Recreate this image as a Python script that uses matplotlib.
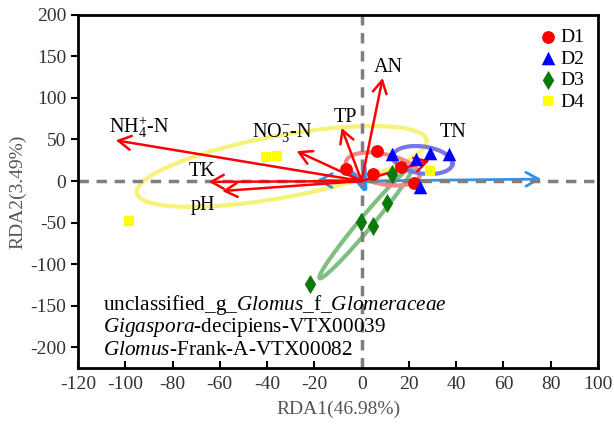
import numpy as np
import matplotlib
matplotlib.use("Agg")
import matplotlib.pyplot as plt

plt.rcParams['font.family'] = ['Liberation Serif', 'DejaVu Serif']
plt.rcParams['mathtext.fontset'] = 'custom'
plt.rcParams['mathtext.rm'] = 'Liberation Serif'
plt.rcParams['mathtext.it'] = 'Liberation Serif:italic'
plt.rcParams['axes.unicode_minus'] = False

# sample scores
d1_x = [6.3, -6.8, 5.0, 16.5, 22.0]
d1_y = [36, 14.5, 8.4, 17, -2.4]
d2_x = [13, 23, 29, 37, 24.5]
d2_y = [32.5, 26.5, 33.7, 32.5, -7.2]
d3_x = [13, 10.6, -0.4, 4.7, -22]
d3_y = [8.4, -26.5, -49, -54, -124]
d4_x = [-40.6, -36, 29, -98.6]
d4_y = [29, 30, 12, -48]

# confidence ellipses: centre, half-axis vectors (data units)
ell_centre = {"D1": (8.9, 14.5), "D2": (25.8, 25.3), "D3": (1.7, -50.6), "D4": (-33.8, 17.5)}
ell_major = {"D1": (15.5, -9.0), "D2": (12.6, -5.0), "D3": (19.5, 66.3), "D4": (61.3, 31.9)}
ell_minor = {"D1": (-1.27, -17.7), "D2": (-0.8, -16.1), "D3": (2.1, -5.0), "D4": (2.36, -36.7)}

# environmental factors (red arrows)
env_names = ["AN", "TP", "NO$_3^{-}$-N", "NH$_4^{+}$-N", "TK", "pH", "TN"]
env_x = [8.9, -8.5, -27.5, -104, -64.7, -59, 28.8]
env_y = [124, 64, 36, 49, -1, -12, 25]
env_lab_x = [11.4, -7, -33.4, -94, -67.7, -67, 38.5]
env_lab_y = [137, 77, 58, 65, 11, -29, 58]

# species (blue arrows)
sp_names = ["unclassified_g_$\\mathit{Glomus}$_f_$\\mathit{Glomeraceae}$",
            "$\\mathit{Gigaspora}$-decipiens-VTX00039",
            "$\\mathit{Glomus}$-Frank-A-VTX00082"]
sp_x = [76, -19, 2.5]
sp_y = [2.4, 1, -18]

fig = plt.figure(figsize=(6.14, 4.24), dpi=100)
ax = fig.add_axes([0.127, 0.132, 0.847, 0.833])
ax.set_xlim(-120, 100)
ax.set_ylim(-225, 200)

t = np.linspace(0, 2 * np.pi, 200)
ell_cols = {"D1": "#f08a8a", "D2": "#7676e6", "D3": "#7fbf7f", "D4": "#f7f27a"}
for k in ["D4", "D3", "D1", "D2"]:
    cx, cy = ell_centre[k]
    mx, my = ell_major[k]
    nx, ny = ell_minor[k]
    ex = cx + np.cos(t) * mx + np.sin(t) * nx
    ey = cy + np.cos(t) * my + np.sin(t) * ny
    ax.plot(ex, ey, color=ell_cols[k], lw=3, zorder=1.5)

# blue species arrows
for i in range(len(sp_x)):
    hs = 0.9 if i < 2 else 1.4
    ax.annotate("", xy=(sp_x[i], sp_y[i]), xytext=(0, 0),
                arrowprops=dict(arrowstyle="->,head_length=%.1f,head_width=0.5" % hs,
                                color="#2f93f0", lw=2 if i < 2 else 4,
                                shrinkA=0, shrinkB=0, mutation_scale=10),
                zorder=2)

ax.axhline(0, color="#7f7f7f", lw=2.5, ls=(0, (3, 2.2)), zorder=2.5)
ax.axvline(0, color="#7f7f7f", lw=2.5, ls=(0, (3, 2.2)), zorder=2.5)

# red environmental arrows
for i in range(len(env_x)):
    ax.annotate("", xy=(env_x[i], env_y[i]), xytext=(0, 0),
                arrowprops=dict(arrowstyle="->,head_length=0.9,head_width=0.5",
                                color="#ff0000", lw=1.8, shrinkA=0, shrinkB=0,
                                mutation_scale=10),
                zorder=3)
    ax.text(env_lab_x[i], env_lab_y[i], env_names[i], fontsize=14.5,
            ha="center", va="center", zorder=5)

ax.scatter(d1_x, d1_y, marker="o", s=85, color="#ff0000", label="D1", zorder=4, linewidths=0)
ax.scatter(d2_x, d2_y, marker="^", s=95, color="#0000ff", label="D2", zorder=4, linewidths=0)
ax.scatter(d3_x, d3_y, marker="d", s=95, color="#0a7a0a", label="D3", zorder=4, linewidths=0)
ax.scatter(d4_x, d4_y, marker="s", s=60, color="#ffff00", label="D4", zorder=4, linewidths=0)

leg = ax.legend(loc="upper right", frameon=False, fontsize=14, handletextpad=0.05,
                labelspacing=0.2, borderaxespad=0.3, handlelength=1.2)

for j, name in enumerate(sp_names):
    ax.text(-109.6, -149 - 27.5 * j, name, fontsize=15.3, ha="left", va="center", zorder=5)

ax.set_xticks(np.arange(-120, 101, 20))
ax.set_yticks(np.arange(-200, 201, 50))
ax.tick_params(axis="x", direction="in", length=5, width=1.5, labelsize=14,
               labelcolor="#333333", pad=6)
ax.tick_params(axis="y", direction="out", length=5, width=1.5, labelsize=14,
               labelcolor="#333333")
for s in ax.spines.values():
    s.set_linewidth(2)

ax.set_xlabel("RDA1(46.98%)", fontsize=14, color="#555555", labelpad=5)
ax.set_ylabel("RDA2(3.49%)", fontsize=14, color="#555555", labelpad=3)

fig.savefig("out.png", dpi=100)
